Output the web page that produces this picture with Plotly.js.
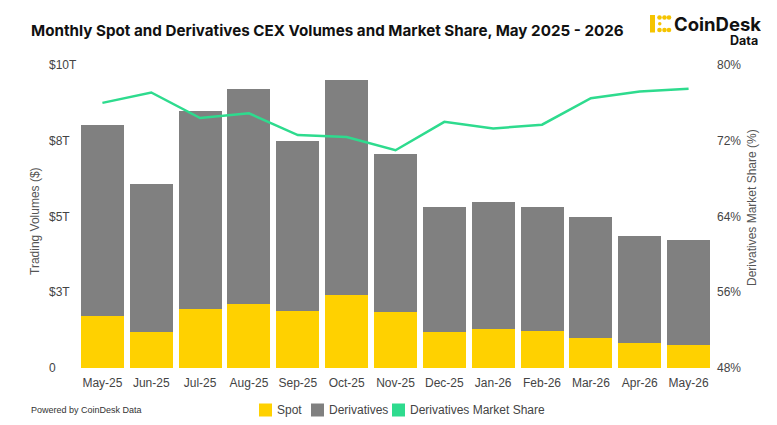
<!DOCTYPE html>
<html>
<head>
<meta charset="utf-8">
<script src="https://cdn.plot.ly/plotly-3.0.1.min.js"></script>
<style>html,body{margin:0;padding:0;background:#fff;}#chart{width:777px;height:425px;}</style>
</head>
<body>
<div id="chart"></div>
<script>
// ---- data (values in trillions of USD and percent) ----
const months = ['May-25','Jun-25','Jul-25','Aug-25','Sep-25','Oct-25','Nov-25','Dec-25','Jan-26','Feb-26','Mar-26','Apr-26','May-26'];
const spot = [1.72,1.19,1.95,2.11,1.88,2.41,1.85,1.19,1.29,1.22,0.99,0.83,0.76];
const derivatives = [6.30,4.88,6.53,7.10,5.61,7.09,5.21,4.12,4.19,4.09,3.99,3.53,3.46];
const derivShare = [76.0,77.1,74.4,74.9,72.6,72.4,71.0,74.0,73.3,73.7,76.5,77.2,77.5];
const leftTickVals = [0,2.5,5,7.5,10];
const leftTickText = ['0','$3T','$5T','$8T','$10T'];
const rightTickVals = [48,56,64,72,80];
const rightTickText = ['48%','56%','64%','72%','80%'];
const legendNames = ['Spot','Derivatives','Derivatives Market Share'];

// ---- styling ----
const C_SPOT = '#FFD100', C_DER = '#808080', C_LINE = '#2EDB8E';
const W = 777, H = 425, L = 78, R = 64, T = 65, B = 57;
const pw = W - L - R, ph = H - T - B;
const px = x => (x - L) / pw;
const py = y => (H - B - y) / ph;
const tickFont = {family: 'Liberation Sans, Arial, sans-serif', size: 12, color: '#444'};
const axTitleFont = {family: 'Liberation Sans, Arial, sans-serif', size: 12, color: '#555'};

const traces = [
  {type: 'bar', x: months, y: spot, name: legendNames[0], marker: {color: C_SPOT}, showlegend: false, hoverinfo: 'skip'},
  {type: 'bar', x: months, y: derivatives, name: legendNames[1], marker: {color: C_DER}, showlegend: false, hoverinfo: 'skip'},
  {type: 'scatter', mode: 'lines', x: months, y: derivShare, yaxis: 'y2', name: legendNames[2],
   line: {color: C_LINE, width: 2.5}, showlegend: false, hoverinfo: 'skip'}
];

const annotations = [];
const shapes = [];

// left tick labels (left aligned)
leftTickVals.forEach((v, i) => {
  annotations.push({xref: 'paper', yref: 'y', x: px(47), y: v, text: leftTickText[i], showarrow: false,
    xanchor: 'left', yanchor: 'middle', font: tickFont});
});

// axis titles
annotations.push({xref: 'paper', yref: 'paper', x: px(35), y: py(221), text: 'Trading Volumes ($)', showarrow: false,
  textangle: -90, xanchor: 'center', yanchor: 'middle', font: axTitleFont});
annotations.push({xref: 'paper', yref: 'paper', x: px(752), y: py(208), text: 'Derivatives Market Share (%)', showarrow: false,
  textangle: -90, xanchor: 'center', yanchor: 'middle', font: axTitleFont});

// custom legend
const legColors = [C_SPOT, C_DER, C_LINE];
const legX = [259, 311, 392];
legendNames.forEach((n, i) => {
  shapes.push({type: 'rect', xref: 'paper', yref: 'paper', x0: px(legX[i]), x1: px(legX[i] + 13),
    y0: py(416.5), y1: py(403.5), fillcolor: legColors[i], line: {width: 0}});
  annotations.push({xref: 'paper', yref: 'paper', x: px(legX[i] + 16), y: py(410), text: n, showarrow: false,
    xanchor: 'left', yanchor: 'middle', font: tickFont});
});

// footer
annotations.push({xref: 'paper', yref: 'paper', x: px(29), y: py(410), text: 'Powered by CoinDesk Data', showarrow: false,
  xanchor: 'left', yanchor: 'middle', font: {family: 'Liberation Sans Narrow, Liberation Sans, Arial', size: 9, color: '#333'}});

// logo
annotations.push({xref: 'paper', yref: 'paper', x: px(673), y: py(23.5), text: '<b>CoinDesk</b>', showarrow: false,
  xanchor: 'left', yanchor: 'middle', height: 17, borderpad: 0,
  font: {family: 'Inter, Liberation Sans, Arial', size: 18.5, color: '#111'}});
annotations.push({xref: 'paper', yref: 'paper', x: px(759), y: py(41), text: '<b>Data</b>', showarrow: false,
  xanchor: 'right', yanchor: 'middle', height: 11, borderpad: 0,
  font: {family: 'Inter, Liberation Sans, Arial', size: 12.5, color: '#111'}});
const lg = '#F5C400';
shapes.push({type: 'rect', xref: 'paper', yref: 'paper', x0: px(650), x1: px(655), y0: py(32.5), y1: py(15), fillcolor: lg, line: {width: 0}});
[659.5, 664.5, 669].forEach(cx => {
  shapes.push({type: 'circle', xref: 'paper', yref: 'paper', x0: px(cx - 2.3), x1: px(cx + 2.3), y0: py(19.8), y1: py(15.2), fillcolor: lg, line: {width: 0}});
  shapes.push({type: 'circle', xref: 'paper', yref: 'paper', x0: px(cx - 2.3), x1: px(cx + 2.3), y0: py(32.3), y1: py(27.7), fillcolor: lg, line: {width: 0}});
});
shapes.push({type: 'circle', xref: 'paper', yref: 'paper', x0: px(658), x1: px(661.5), y0: py(25.5), y1: py(22), fillcolor: lg, line: {width: 0}});

const layout = {
  width: W, height: H,
  margin: {l: L, r: R, t: T, b: B, pad: 0},
  paper_bgcolor: '#fff', plot_bgcolor: '#fff',
  barmode: 'stack', bargap: 0.12,
  showlegend: false,
  title: {text: '<b>Monthly Spot and Derivatives CEX Volumes and Market Share, May 2025 - 2026</b>',
    xref: 'container', yref: 'container', x: 31 / W, xanchor: 'left', y: 1 - 31 / H, yanchor: 'middle',
    font: {family: 'Inter, Liberation Sans, Arial', size: 15.2, color: '#111'}},
  xaxis: {type: 'category', showgrid: false, zeroline: false, showline: false, ticks: '',
    tickfont: tickFont, ticklabelstandoff: 6},
  yaxis: {range: [0, 10], showgrid: false, zeroline: false, showline: false, ticks: '',
    tickvals: leftTickVals, showticklabels: false},
  yaxis2: {overlaying: 'y', side: 'right', range: [48, 80], showgrid: false, zeroline: false, showline: false, ticks: '',
    tickvals: rightTickVals, ticktext: rightTickText, tickfont: tickFont, ticklabelstandoff: 3},
  annotations: annotations,
  shapes: shapes
};

Plotly.newPlot('chart', traces, layout, {displayModeBar: false, staticPlot: true});
</script>
</body>
</html>
